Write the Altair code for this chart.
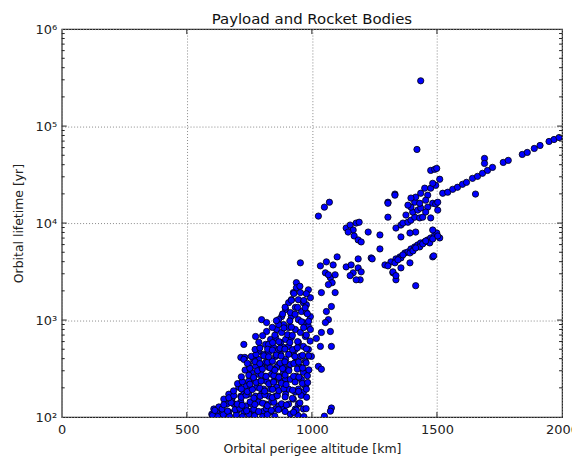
import altair as alt
import pandas as pd

# (perigee altitude km, orbital lifetime yr), grouped by region
dense_column = [(938,2430),(938,2150),(926,1920),(954,1920),(918,1620),(946,1620),(966,1510),(978,1440),
                (986,2050),(994,1700),(934,1350),(958,1225),(978,1195),(994,1085),(918,1085),(946,1010),
                (966,943),(986,858),(934,799),(954,745),(974,677),(994,799),(918,662),(946,588),(966,535),
                (986,498),(998,422),(934,498),(954,422),(974,375),(934,366),(954,326),(966,289),(938,263),
                (958,245),(974,208),(946,194),(966,181),(934,181)]

diagonal_band = [(907,1510),(895,1285),(914,1195),(879,1085),(799,1010),(819,943),(867,1010),(887,899),
                 (907,838),(859,799),(819,762),(879,745),(775,677),(835,631),(855,662),(875,588),(895,631),
                 (815,561),(847,522),(887,522),(907,535),(716,412),(732,412),(787,475),(807,443),(827,464),
                 (855,422),(875,443),(895,393),(787,393),(815,366),(839,375),(867,349),(775,333),(799,333),
                 (827,326),(859,326),(887,333),(759,289),(787,276),(815,263),(839,276),(867,263),(887,289),
                 (767,245),(795,234),(819,234),(847,234),(875,234),(895,245),(747,234),(708,218),(708,203),
                 (736,208),(755,194),(779,203),(807,194),(835,194),(859,203),(747,172),(775,164),(799,172),
                 (827,164),(855,164),(680,153),(716,164),(895,172),(688,136),(716,143),(736,130),(759,136),
                 (787,143),(815,136),(839,143),(867,130),(700,115),(728,113),(755,115),(779,113),(807,115),
                 (835,113),(855,121),(608,121),(620,113),(600,107),(640,107),(668,113),(680,146),(728,561),
                 (728,393),(867,899),(767,393),(747,349),(795,311),(847,311),(907,311),(887,218),(907,194),
                 (907,136),(887,121),(914,107),(728,172),(660,136),(668,172),(628,127),(648,153),(827,561),
                 (867,498),(926,443),(914,349),(914,245),(926,153),(946,136),(966,121),(934,121)]

# the crowded core of the band (lower part is nearly solid in the reference)
core_low = [(603,104),(624,101),(646,106),(671,102),(698,105),(722,101),(748,107),(771,103),(803,101),
            (822,106),(852,102),(944,104),(968,101),
            (612,117),(641,121),(663,115),(693,119),(712,123),(739,116),(768,120),(787,114),(818,122),
            (838,117),(866,119),(893,114),(938,118),(977,122),
            (648,134),(677,141),(702,136),(721,132),(753,143),(772,135),(803,139),(822,131),(848,142),
            (879,137),(898,133),(952,140),
            (668,158),(688,166),(718,160),(737,168),(768,157),(793,164),(812,170),(842,159),(862,166),
            (893,161),(922,156),(957,167),(979,160),
            (687,186),(718,195),(742,183),(762,192),(792,198),(811,185),(843,193),(868,187),(888,196),
            (923,189),(947,184),(978,194),
            (703,221),(722,231),(752,218),(777,228),(797,235),(828,220),(847,229),(878,223),(897,216),
            (933,230),(962,222),(983,227),
            (718,260),(748,270),(767,256),(798,274),(817,262),(848,268),(868,257),(893,271),(927,263),
            (948,258),(982,267),
            (733,305),(752,318),(783,300),(802,313),(833,322),(852,304),(883,316),(908,301),(942,312),
            (963,320),(988,306),
            (742,358),(773,372),(792,355),(823,368),(842,377),(873,360),(892,371),(928,357),(947,369),
            (977,362),
            (758,422),(777,441),(808,428),(827,418),(858,436),(877,425),(907,444),(932,421),(963,433),
            (987,427),
            (773,497),(792,515),(823,500),(842,490),(873,512),(892,502),(923,494),(942,518),(978,505)]

core_high = [(788,590),(843,585),(868,598),(912,588),(943,600),(993,607),
             (803,690),(852,698),(903,706),(922,695),(978,700),
             (842,840),(888,830),(918,845),(967,836),
             (858,985),(912,978),(958,960),(987,972),
             (883,1155),(933,1148),(982,1160),
             (893,1355),(943,1350),(973,1338),
             (918,1600),(968,1590),
             (928,1880),(978,1870),
             (952,2230)]

upper_dense = [(1018,646),(1034,535),(1078,535),(1026,333),(1038,311),(1078,124),(1050,102),(927,112),
               (1074,115),(1034,3620),(1058,3980),(1085,3700),(1101,4480),(1054,3070),(1074,2730),
               (1081,2430),(1093,2930),(1137,3530),(1157,3700),(1165,3070),(1185,4270),(1185,3450),
               (1193,2600),(1197,3140),(1237,4370),(954,3890),(1038,1920),(1093,1920),(1058,1225),
               (1078,1380),(1066,1010),(1054,943),(1038,745),(1074,762),(1066,2320),(1066,2930),
               (1153,2870),(1177,2600)]

middle_sparse = [(1026,11800),(1050,14600),(1070,16400),(1137,8890),(1153,9540),(1165,8480),(1177,10000),
                 (1189,10200),(1169,7360),(1185,6700),(1197,6390),(1145,8080),(1225,8080),(1272,7540),
                 (1272,5410),(1241,4270),(1304,16400),(1304,11500),(1332,19900),(1356,3450),(1324,3070),
                 (1336,2600),(1415,2260),(1392,3890),(1483,4480),(1487,4590)]

lower_branch = [(1292,3700),(1316,3980),(1336,4270),(1352,4480),(1372,4920),(1384,5040),(1396,5410),
                (1411,5680),(1423,5950),(1435,6240),(1451,6390),(1463,6700),(1475,7020),(1491,7540),
                (1499,7900),(1511,7020),(1471,6240),(1431,5680),(1392,4920),(1356,4370),(1332,3890),
                (1324,3140),(1336,2870),(1364,4700),(1404,5160),(1443,6100),(1483,6860),(1503,7360),
                (1304,3620),(1344,4180),(1415,5540),(1455,6540)]

upper_cluster = [(1304,16000),(1332,19400),(1336,8890),(1356,9540),(1364,10000),(1384,10200),(1396,10700),
                 (1411,11500),(1431,11300),(1443,11500),(1475,11300),(1483,8480),(1415,8080),(1392,7900),
                 (1356,7190),(1403,13000),(1423,13600),(1435,14300),(1396,14600),(1384,15300),(1411,16400),
                 (1431,16000),(1463,14600),(1483,16000),(1495,15700),(1503,16400),(1415,18500),(1435,20300),
                 (1451,22900),(1475,22900),(1495,24500),(1511,28300),(1483,25700),(1463,19400),(1475,34900),
                 (1491,35800),(1499,36600),(1396,18100),(1455,17200),(1376,12100),(1455,13000),(1503,13600)]

upper_branch = [(1523,20300),(1543,20800),(1563,22300),(1582,23400),(1602,25100),(1618,26300),(1642,28900),
                (1662,30300),(1682,32600),(1702,34900),(1722,37500),(1765,42200),(1785,44300),(1841,51000),
                (1861,53500),(1889,58800),(1912,63100),(1948,69400),(1968,72700),(1988,76200),(1690,46400),
                (1690,41200),(1654,19900)]

outliers = [(1435,293000),(1420,57400)]

x_ticks = [0, 500, 1000, 1500, 2000]
y_ticks = [100, 1000, 10000, 100000, 1000000]
y_minor = [m * 10 ** k for k in range(2, 6) for m in range(2, 10)]

pts = (dense_column + diagonal_band + core_low + core_high + upper_dense + middle_sparse
       + lower_branch + upper_cluster + upper_branch + outliers)
df = pd.DataFrame(pts, columns=["km", "yr"])

W, H = 503, 390
xs = alt.Scale(domain=[0, 2000], nice=False)
ys = alt.Scale(type="log", domain=[100, 1000000], nice=False)

points = alt.Chart(df).mark_circle(
    size=40, color="#0000ff", stroke="#000000", strokeWidth=0.8, opacity=1, clip=True
).encode(
    x=alt.X("km:Q", scale=xs, axis=alt.Axis(
        values=x_ticks, format="d", grid=True, ticks=False, domain=False, labelPadding=7,
        title="Orbital perigee altitude [km]", titlePadding=6, labelFlush=False)),
    y=alt.Y("yr:Q", scale=ys, axis=alt.Axis(
        values=y_ticks, grid=True, ticks=False, domain=False, labelPadding=5,
        labelExpr="['10²','10³','10⁴','10⁵','10⁶'][round(log(datum.value)/LN10)-2]",
        title="Orbital lifetime [yr]", titlePadding=10, labelFlush=False)),
)

xt = pd.DataFrame({"v": x_ticks[1:-1]})
yt = pd.DataFrame({"v": y_ticks[1:-1]})
ym = pd.DataFrame({"v": y_minor})
tick_color = "#222222"

bottom_ticks = alt.Chart(xt).mark_rule(color=tick_color).encode(
    x=alt.X("v:Q", scale=xs), y=alt.value(H), y2=alt.value(H - 5))
top_ticks = alt.Chart(xt).mark_rule(color=tick_color).encode(
    x=alt.X("v:Q", scale=xs), y=alt.value(0), y2=alt.value(5))
left_ticks = alt.Chart(yt).mark_rule(color=tick_color).encode(
    y=alt.Y("v:Q", scale=ys), x=alt.value(0), x2=alt.value(5))
right_ticks = alt.Chart(yt).mark_rule(color=tick_color).encode(
    y=alt.Y("v:Q", scale=ys), x=alt.value(W), x2=alt.value(W - 5))
left_minor = alt.Chart(ym).mark_rule(color=tick_color).encode(
    y=alt.Y("v:Q", scale=ys), x=alt.value(0), x2=alt.value(3))
right_minor = alt.Chart(ym).mark_rule(color=tick_color).encode(
    y=alt.Y("v:Q", scale=ys), x=alt.value(W), x2=alt.value(W - 3))

chart = alt.layer(
    points, bottom_ticks, top_ticks, left_ticks, right_ticks, left_minor, right_minor
).properties(
    width=W, height=H,
    title=alt.TitleParams("Payload and Rocket Bodies", fontSize=15, fontWeight="normal",
                          color="#111111", offset=-4, font="DejaVu Sans"),
    autosize=alt.AutoSizeParams(type="none"),
    padding={"left": 54, "top": 20, "right": 10, "bottom": 45},
).configure_view(
    stroke="#222222", strokeWidth=1.2
).configure_axis(
    labelFont="DejaVu Sans", titleFont="DejaVu Sans", labelFontSize=13, titleFontSize=12.5,
    labelColor="#222222", titleColor="#222222", titleFontWeight="normal",
    gridColor="#888888", gridDash=[1, 2], gridWidth=1, gridOpacity=1
)

chart.save("out.html", embed_options={"renderer": "svg", "actions": False})
